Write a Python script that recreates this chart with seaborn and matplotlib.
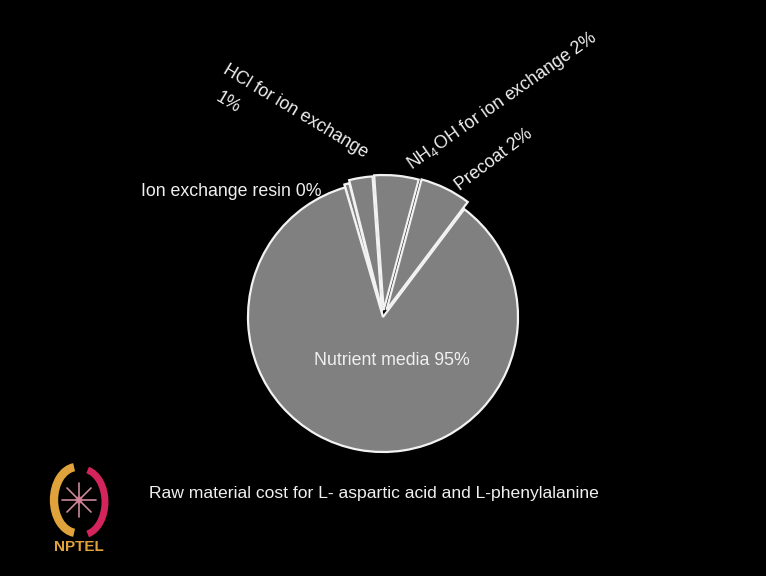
import numpy as np
import matplotlib.pyplot as plt
import matplotlib.patches as mpatches
import seaborn as sns

# wedge sizes as drawn (counterclockwise from the right edge of the big wedge)
categories = ["Precoat", "NH4OH for ion exchange", "HCl for ion exchange",
              "Ion exchange resin", "Nutrient media"]
sizes = [6.1, 5.3, 2.8, 0.6, 85.2]
explode = [8, 7, 6, 3, 0]  # pixels
label_texts = ["Precoat 2%", r"NH$_4$OH for ion exchange 2%", "HCl for ion exchange",
               "Ion exchange resin 0%", "Nutrient media 95%"]
caption = "Raw material cost for L- aspartic acid and L-phenylalanine"

sns.set_theme(style="dark", rc={"figure.facecolor": "black", "axes.facecolor": "black",
                                "savefig.facecolor": "black"})
plt.rcParams["font.family"] = ["Liberation Sans", "DejaVu Sans"]
plt.rcParams["mathtext.fontset"] = "custom"
plt.rcParams["mathtext.rm"] = "Liberation Sans"
plt.rcParams["mathtext.default"] = "regular"

W, H = 766, 576
fig = plt.figure(figsize=(W / 100, H / 100), dpi=100)
ax = fig.add_axes([0, 0, 1, 1])

ax.pie(sizes, explode=explode, startangle=53, counterclock=True,
       center=(383, H - 317), radius=135, colors=["#808080"] * len(sizes),
       wedgeprops=dict(edgecolor="#f2f2f2", linewidth=1.6))
ax.set_xlim(0, W)
ax.set_ylim(0, H)
ax.axis("off")

txt = dict(color="#f0f0f0", fontsize=12.8)
# labels (pixel positions measured from the top-left)
ax.text(460, H - 191, label_texts[0], rotation=37, rotation_mode="anchor",
        ha="left", va="baseline", **txt)
ax.text(412, H - 170, label_texts[1], rotation=35, rotation_mode="anchor",
        ha="left", va="baseline", **txt)
ax.text(222, H - 73, label_texts[2], rotation=-31, rotation_mode="anchor",
        ha="left", va="baseline", **txt)
ax.text(215, H - 100, "1%", rotation=-31, rotation_mode="anchor",
        ha="left", va="baseline", **txt)
ax.text(141, H - 196, label_texts[3], ha="left", va="baseline", **txt)
ax.text(392, H - 365, label_texts[4], ha="center", va="baseline", **txt)

ax.text(374, H - 498, caption, ha="center", va="baseline", color="#f0f0f0", fontsize=12.6)

# NPTEL logo
cx, cy = 79, H - 500
ax.add_patch(mpatches.Arc((cx - 2, cy), 46, 66, theta1=95, theta2=265,
                          color="#e0a33c", lw=6))
ax.add_patch(mpatches.Arc((cx + 3, cy - 2), 46, 66, theta1=-80, theta2=80,
                          color="#d3245c", lw=5))
for a in np.arange(0, 360, 45):
    r = np.deg2rad(a)
    ax.plot([cx, cx + 17 * np.cos(r)], [cy, cy + 17 * np.sin(r)],
            color="#c98a9a", lw=1.2)
ax.add_patch(mpatches.Circle((cx, cy), 3, color="#d3245c"))
ax.text(79, H - 547, "NPTEL", ha="center", va="center", color="#e0a33c",
        fontsize=11, fontweight="bold")

fig.savefig("out.png", dpi=100, facecolor="black")
